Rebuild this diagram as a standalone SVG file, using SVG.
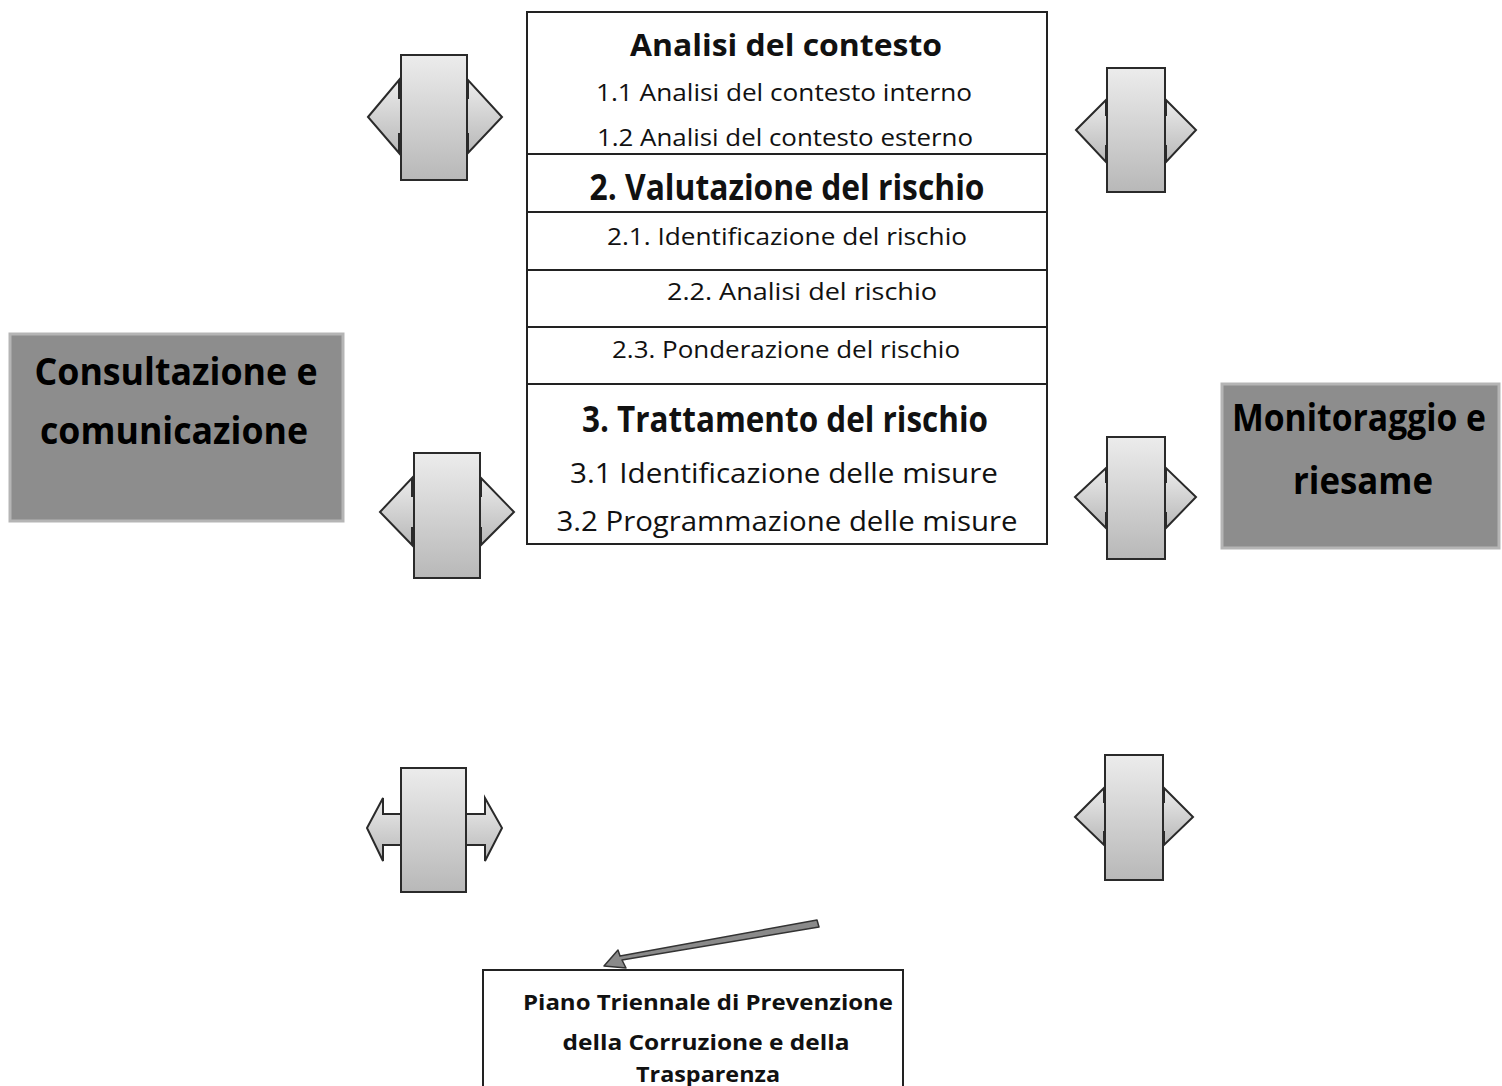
<svg xmlns="http://www.w3.org/2000/svg" width="1502" height="1086" viewBox="0 0 1502 1086">
<defs>
<linearGradient id="ag" x1="0" y1="0" x2="0" y2="1">
<stop offset="0" stop-color="#ececec"/>
<stop offset="1" stop-color="#b8b8b8"/>
</linearGradient>
<style>
.arr{fill:url(#ag);stroke:#2a2a2a;stroke-width:2;stroke-linejoin:miter}
.gbox{fill:#8d8d8d;stroke:#b5b5b5;stroke-width:3}
.gt{font-family:"Open Sans","Liberation Sans",sans-serif;font-weight:bold;font-size:38px;fill:#000;text-anchor:middle}
.cell{fill:#fff;stroke:#222;stroke-width:2}
.h{font-family:"Open Sans","Liberation Sans",sans-serif;font-weight:bold;fill:#111;text-anchor:middle}
.t{font-family:"Open Sans","Liberation Sans",sans-serif;fill:#111;text-anchor:middle}
.bt{font-family:"Open Sans","Liberation Sans",sans-serif;font-weight:bold;font-size:22px;fill:#111;text-anchor:middle}
</style>
</defs>
<rect width="1502" height="1086" fill="#fff"/>

<g id="table">
<rect class="cell" x="527" y="12" width="520" height="532"/>
<line x1="527" y1="154" x2="1047" y2="154" stroke="#222" stroke-width="2"/>
<line x1="527" y1="212" x2="1047" y2="212" stroke="#222" stroke-width="2"/>
<line x1="527" y1="270" x2="1047" y2="270" stroke="#222" stroke-width="2"/>
<line x1="527" y1="327" x2="1047" y2="327" stroke="#222" stroke-width="2"/>
<line x1="527" y1="384" x2="1047" y2="384" stroke="#222" stroke-width="2"/>
<text class="h" x="786" y="56" font-size="31" textLength="312" lengthAdjust="spacingAndGlyphs">Analisi del contesto</text>
<text class="t" x="784" y="101" font-size="24" textLength="376" lengthAdjust="spacingAndGlyphs">1.1 Analisi del contesto interno</text>
<text class="t" x="785" y="146" font-size="24" textLength="376" lengthAdjust="spacingAndGlyphs">1.2 Analisi del contesto esterno</text>
<text class="h" x="787" y="200" font-size="35" textLength="395" lengthAdjust="spacingAndGlyphs">2. Valutazione del rischio</text>
<text class="t" x="787" y="245" font-size="24" textLength="360" lengthAdjust="spacingAndGlyphs">2.1. Identificazione del rischio</text>
<text class="t" x="802" y="300" font-size="24" textLength="270" lengthAdjust="spacingAndGlyphs">2.2. Analisi del rischio</text>
<text class="t" x="786" y="358" font-size="24" textLength="348" lengthAdjust="spacingAndGlyphs">2.3. Ponderazione del rischio</text>
<text class="h" x="785" y="432" font-size="35" textLength="406" lengthAdjust="spacingAndGlyphs">3. Trattamento del rischio</text>
<text class="t" x="784" y="483" font-size="28" textLength="428" lengthAdjust="spacingAndGlyphs">3.1 Identificazione delle misure</text>
<text class="t" x="787" y="531" font-size="28" textLength="461" lengthAdjust="spacingAndGlyphs">3.2 Programmazione delle misure</text>
</g>

<g id="consultazione">
<rect class="gbox" x="10" y="334" width="333" height="187"/>
<text class="gt" x="176" y="385" textLength="283" lengthAdjust="spacingAndGlyphs">Consultazione e</text>
<text class="gt" x="174" y="444" textLength="268" lengthAdjust="spacingAndGlyphs">comunicazione</text>
</g>

<g id="monitoraggio">
<rect class="gbox" x="1222" y="384" width="277" height="164"/>
<text class="gt" x="1359" y="431" font-size="32" textLength="254" lengthAdjust="spacingAndGlyphs">Monitoraggio e</text>
<text class="gt" x="1363" y="494" textLength="140" lengthAdjust="spacingAndGlyphs">riesame</text>
</g>

<g id="piano">
<rect class="cell" x="483" y="970" width="420" height="140"/>
<text class="bt" x="708" y="1010" textLength="370" lengthAdjust="spacingAndGlyphs">Piano Triennale di Prevenzione</text>
<text class="bt" x="706" y="1050" textLength="287" lengthAdjust="spacingAndGlyphs">della Corruzione e della</text>
<text class="bt" x="708" y="1082" textLength="144" lengthAdjust="spacingAndGlyphs">Trasparenza</text>
</g>

<g id="arrow1">
<polygon class="arr" points="368,117 399,80 399,98 468,98 468,80 502,117 468,153 468,134 399,134 399,153"/>
<rect class="arr" x="401" y="55" width="66" height="125"/>
</g>
<g id="arrow2">
<polygon class="arr" points="1076,130 1106,100 1106,115 1166,115 1166,100 1196,130 1166,162 1166,146 1106,146 1106,162"/>
<rect class="arr" x="1107" y="68" width="58" height="124"/>
</g>
<g id="arrow3">
<polygon class="arr" points="380,512 412,478 412,496 481,496 481,478 514,512 481,545 481,528 412,528 412,545"/>
<rect class="arr" x="414" y="453" width="66" height="125"/>
</g>
<g id="arrow4">
<polygon class="arr" points="1075,497 1106,468 1106,482 1166,482 1166,468 1196,497 1166,528 1166,513 1106,513 1106,528"/>
<rect class="arr" x="1107" y="437" width="58" height="122"/>
</g>
<g id="arrow5">
<polygon class="arr" points="367,828 383,798 383,814 485,814 485,798 502,828 485,861 485,845 383,845 383,861"/>
<rect class="arr" x="401" y="768" width="65" height="124"/>
</g>
<g id="arrow6">
<polygon class="arr" points="1075,817 1104,788 1104,802 1164,802 1164,788 1193,817 1164,845 1164,832 1104,832 1104,845"/>
<rect class="arr" x="1105" y="755" width="58" height="125"/>
</g>

<g id="connectors">
<polygon points="817,920 819,927 622,960 626,968 604,966 618,950 620,956" fill="#8a8a8a" stroke="#333" stroke-width="1.5" stroke-linejoin="round"/>
</g>
</svg>
